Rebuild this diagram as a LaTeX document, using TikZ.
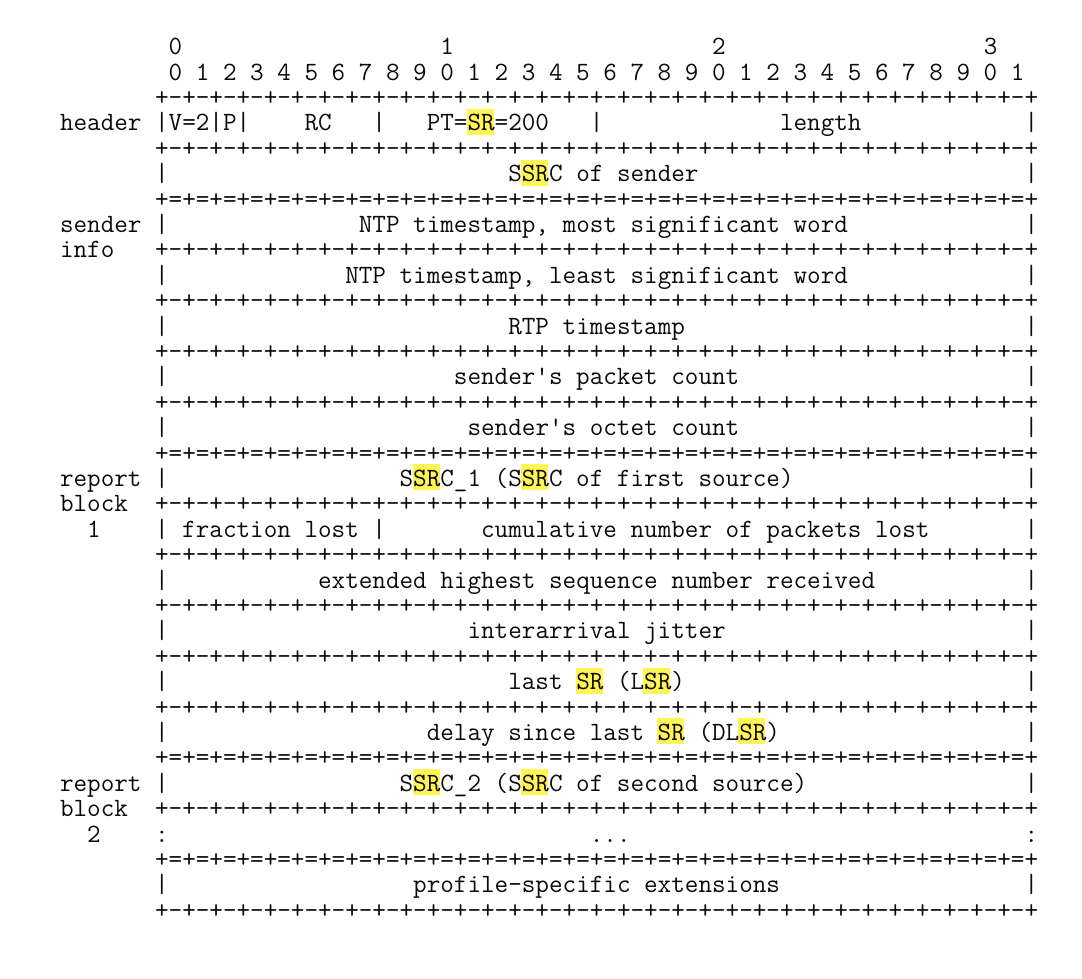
\documentclass[tikz,border=0pt]{standalone}
\usepackage{fontspec}
\newfontfamily\asciimono{Latin Modern Mono}
\definecolor{ink}{RGB}{10,10,10}
\definecolor{hlyellow}{RGB}{255,245,85}
\newcommand\sk[1]{\kern\dimexpr\fontcharwd\font`\0*#1\relax}
\newcommand\dashgrp{+-+-+-+-}
\newcommand\dashrow{\dashgrp\dashgrp\dashgrp\dashgrp\dashgrp\dashgrp\dashgrp\dashgrp+}
\newcommand\eqgrp{+=+=+=+=}
\newcommand\eqrow{\eqgrp\eqgrp\eqgrp\eqgrp\eqgrp\eqgrp\eqgrp\eqgrp+}
\tikzset{
  ln/.style={anchor=base west, inner sep=0pt, outer sep=0pt, text=ink,
    font=\asciimono\fontsize{26.38pt}{25.4pt}\selectfont},
  hlbox/.style={fill=hlyellow, draw=none}
}
% line #1, text #2
\newcommand\asciiline[2]{\node[ln] (l#1) at (60,{54.6+25.4*#1}) {#2};}
% highlight two characters on line #1 starting at column #2
\newcommand\hlpair[2]{\path[hlbox] ({60+13.566*#2},{54.6+25.4*#1-22}) rectangle ({60+13.566*(#2+2)},{54.6+25.4*#1+4});}
\begin{document}
\begin{tikzpicture}[x=1pt,y=-1pt]
\useasboundingbox[fill=white] (0,0) rectangle (1082,978);
% highlights
\hlpair{3}{30}
\hlpair{5}{34}
\hlpair{17}{26}\hlpair{17}{34}
\hlpair{25}{38}\hlpair{25}{43}
\hlpair{27}{44}\hlpair{27}{50}
\hlpair{29}{26}\hlpair{29}{34}
% text lines
\asciiline{0}{\sk{8}0\sk{19}1\sk{19}2\sk{19}3}
\asciiline{1}{\sk{8}0\sk{1}1\sk{1}2\sk{1}3\sk{1}4\sk{1}5\sk{1}6\sk{1}7\sk{1}8\sk{1}9\sk{1}0\sk{1}1\sk{1}2\sk{1}3\sk{1}4\sk{1}5\sk{1}6\sk{1}7\sk{1}8\sk{1}9\sk{1}0\sk{1}1\sk{1}2\sk{1}3\sk{1}4\sk{1}5\sk{1}6\sk{1}7\sk{1}8\sk{1}9\sk{1}0\sk{1}1}
\asciiline{2}{\sk{7}\dashrow}
\asciiline{3}{header\sk{1}|V=2|P|\sk{4}RC\sk{3}|\sk{3}PT=SR=200\sk{3}|\sk{13}length\sk{12}|}
\asciiline{4}{\sk{7}\dashrow}
\asciiline{5}{\sk{7}|\sk{25}SSRC\sk{1}of\sk{1}sender\sk{24}|}
\asciiline{6}{\sk{7}\eqrow}
\asciiline{7}{sender\sk{1}|\sk{14}NTP\sk{1}timestamp,\sk{1}most\sk{1}significant\sk{1}word\sk{13}|}
\asciiline{8}{info\sk{3}\dashrow}
\asciiline{9}{\sk{7}|\sk{13}NTP\sk{1}timestamp,\sk{1}least\sk{1}significant\sk{1}word\sk{13}|}
\asciiline{10}{\sk{7}\dashrow}
\asciiline{11}{\sk{7}|\sk{25}RTP\sk{1}timestamp\sk{25}|}
\asciiline{12}{\sk{7}\dashrow}
\asciiline{13}{\sk{7}|\sk{21}sender's\sk{1}packet\sk{1}count\sk{21}|}
\asciiline{14}{\sk{7}\dashrow}
\asciiline{15}{\sk{7}|\sk{22}sender's\sk{1}octet\sk{1}count\sk{21}|}
\asciiline{16}{\sk{7}\eqrow}
\asciiline{17}{report\sk{1}|\sk{17}SSRC\_1\sk{1}(SSRC\sk{1}of\sk{1}first\sk{1}source)\sk{17}|}
\asciiline{18}{block\sk{2}\dashrow}
\asciiline{19}{\sk{2}1\sk{4}|\sk{1}fraction\sk{1}lost\sk{1}|\sk{7}cumulative\sk{1}number\sk{1}of\sk{1}packets\sk{1}lost\sk{7}|}
\asciiline{20}{\sk{7}\dashrow}
\asciiline{21}{\sk{7}|\sk{11}extended\sk{1}highest\sk{1}sequence\sk{1}number\sk{1}received\sk{11}|}
\asciiline{22}{\sk{7}\dashrow}
\asciiline{23}{\sk{7}|\sk{22}interarrival\sk{1}jitter\sk{22}|}
\asciiline{24}{\sk{7}\dashrow}
\asciiline{25}{\sk{7}|\sk{25}last\sk{1}SR\sk{1}(LSR)\sk{25}|}
\asciiline{26}{\sk{7}\dashrow}
\asciiline{27}{\sk{7}|\sk{19}delay\sk{1}since\sk{1}last\sk{1}SR\sk{1}(DLSR)\sk{18}|}
\asciiline{28}{\sk{7}\eqrow}
\asciiline{29}{report\sk{1}|\sk{17}SSRC\_2\sk{1}(SSRC\sk{1}of\sk{1}second\sk{1}source)\sk{16}|}
\asciiline{30}{block\sk{2}\dashrow}
\asciiline{31}{\sk{2}2\sk{4}:\sk{31}...\sk{29}:}
\asciiline{32}{\sk{7}\eqrow}
\asciiline{33}{\sk{7}|\sk{18}profile-specific\sk{1}extensions\sk{18}|}
\asciiline{34}{\sk{7}\dashrow}
\end{tikzpicture}
\end{document}
